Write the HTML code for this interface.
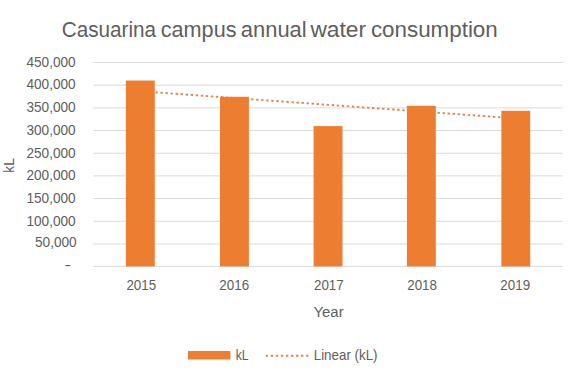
<!DOCTYPE html>
<html><head><meta charset="utf-8">
<style>
html,body{margin:0;padding:0;background:#fff;width:572px;height:381px;overflow:hidden}
svg{display:block}
text{font-family:"Liberation Sans",sans-serif;fill:#5e5e5e}
</style></head>
<body>
<svg width="572" height="381" viewBox="0 0 572 381">
<rect x="0" y="0" width="572" height="381" fill="#fff"/>
<g font-size="22.9">
<text transform="translate(61.75,37.10) scale(0.9034,1)">Casuarina</text>
<text transform="translate(160.74,37.10) scale(0.9455,1)">campus</text>
<text transform="translate(240.82,37.10) scale(0.9584,1)">annual</text>
<text transform="translate(310.40,37.10) scale(0.9951,1)">water</text>
<text transform="translate(370.90,37.10) scale(0.9778,1)">consumption</text>
</g>
<g stroke="#d9d9d9" stroke-width="1" fill="none">
<line x1="93.4" x2="562.9" y1="62.50" y2="62.50"/>
<line x1="93.4" x2="562.9" y1="85.18" y2="85.18"/>
<line x1="93.4" x2="562.9" y1="107.86" y2="107.86"/>
<line x1="93.4" x2="562.9" y1="130.54" y2="130.54"/>
<line x1="93.4" x2="562.9" y1="153.22" y2="153.22"/>
<line x1="93.4" x2="562.9" y1="175.90" y2="175.90"/>
<line x1="93.4" x2="562.9" y1="198.58" y2="198.58"/>
<line x1="93.4" x2="562.9" y1="221.26" y2="221.26"/>
<line x1="93.4" x2="562.9" y1="243.94" y2="243.94"/>
<line x1="93.4" x2="562.9" y1="266.4" y2="266.4"/>
</g>
<g font-size="14.2">
<text transform="translate(26.46,66.80) scale(0.9600,1)">450,000</text>
<text transform="translate(26.46,89.48) scale(0.9600,1)">400,000</text>
<text transform="translate(26.46,112.16) scale(0.9600,1)">350,000</text>
<text transform="translate(26.46,134.84) scale(0.9600,1)">300,000</text>
<text transform="translate(26.46,157.52) scale(0.9600,1)">250,000</text>
<text transform="translate(26.46,180.20) scale(0.9600,1)">200,000</text>
<text transform="translate(26.46,202.88) scale(0.9600,1)">150,000</text>
<text transform="translate(26.46,225.56) scale(0.9600,1)">100,000</text>
<text transform="translate(34.98,247.24) scale(0.9600,1)">50,000</text>
<text transform="translate(64.60,270.20) scale(1.4000,1)">-</text>
</g>
<line x1="140.32" y1="91.23" x2="515.79" y2="118.38" stroke="#e2864f" stroke-width="1.9" stroke-dasharray="2.4 2.65"/>
<g fill="#ed7d31">
<rect x="125.87" y="80.55" width="28.9" height="185.85"/>
<rect x="220.0" y="96.8" width="28.9" height="169.60"/>
<rect x="313.6" y="126.1" width="28.9" height="140.30"/>
<rect x="406.9" y="105.8" width="28.9" height="160.60"/>
<rect x="501.34" y="110.8" width="28.9" height="155.60"/>
</g>
<g font-size="14.4">
<text transform="translate(141.30,289.80) scale(0.9300,1)" text-anchor="middle">2015</text>
<text transform="translate(234.20,289.80) scale(0.9300,1)" text-anchor="middle">2016</text>
<text transform="translate(328.85,289.80) scale(0.9300,1)" text-anchor="middle">2017</text>
<text transform="translate(422.10,289.80) scale(0.9300,1)" text-anchor="middle">2018</text>
<text transform="translate(515.25,289.80) scale(0.9300,1)" text-anchor="middle">2019</text>
</g>
<text transform="translate(313.50,316.70) scale(0.9686,1)" font-size="15.4">Year</text>
<text transform="translate(14.0,172.68) rotate(-90) scale(0.881,1)" font-size="15.5">kL</text>
<rect x="188" y="351" width="42.4" height="8.5" fill="#ed7d31"/>
<text transform="translate(235.85,359.75) scale(0.8250,1)" font-size="14.6">kL</text>
<line x1="265.7" y1="355.7" x2="309" y2="355.7" stroke="#e2864f" stroke-width="1.9" stroke-dasharray="2.4 2.65"/>
<text transform="translate(313.74,359.60) scale(0.9270,1)" font-size="14.4">Linear (kL)</text>
</svg>
</body></html>
